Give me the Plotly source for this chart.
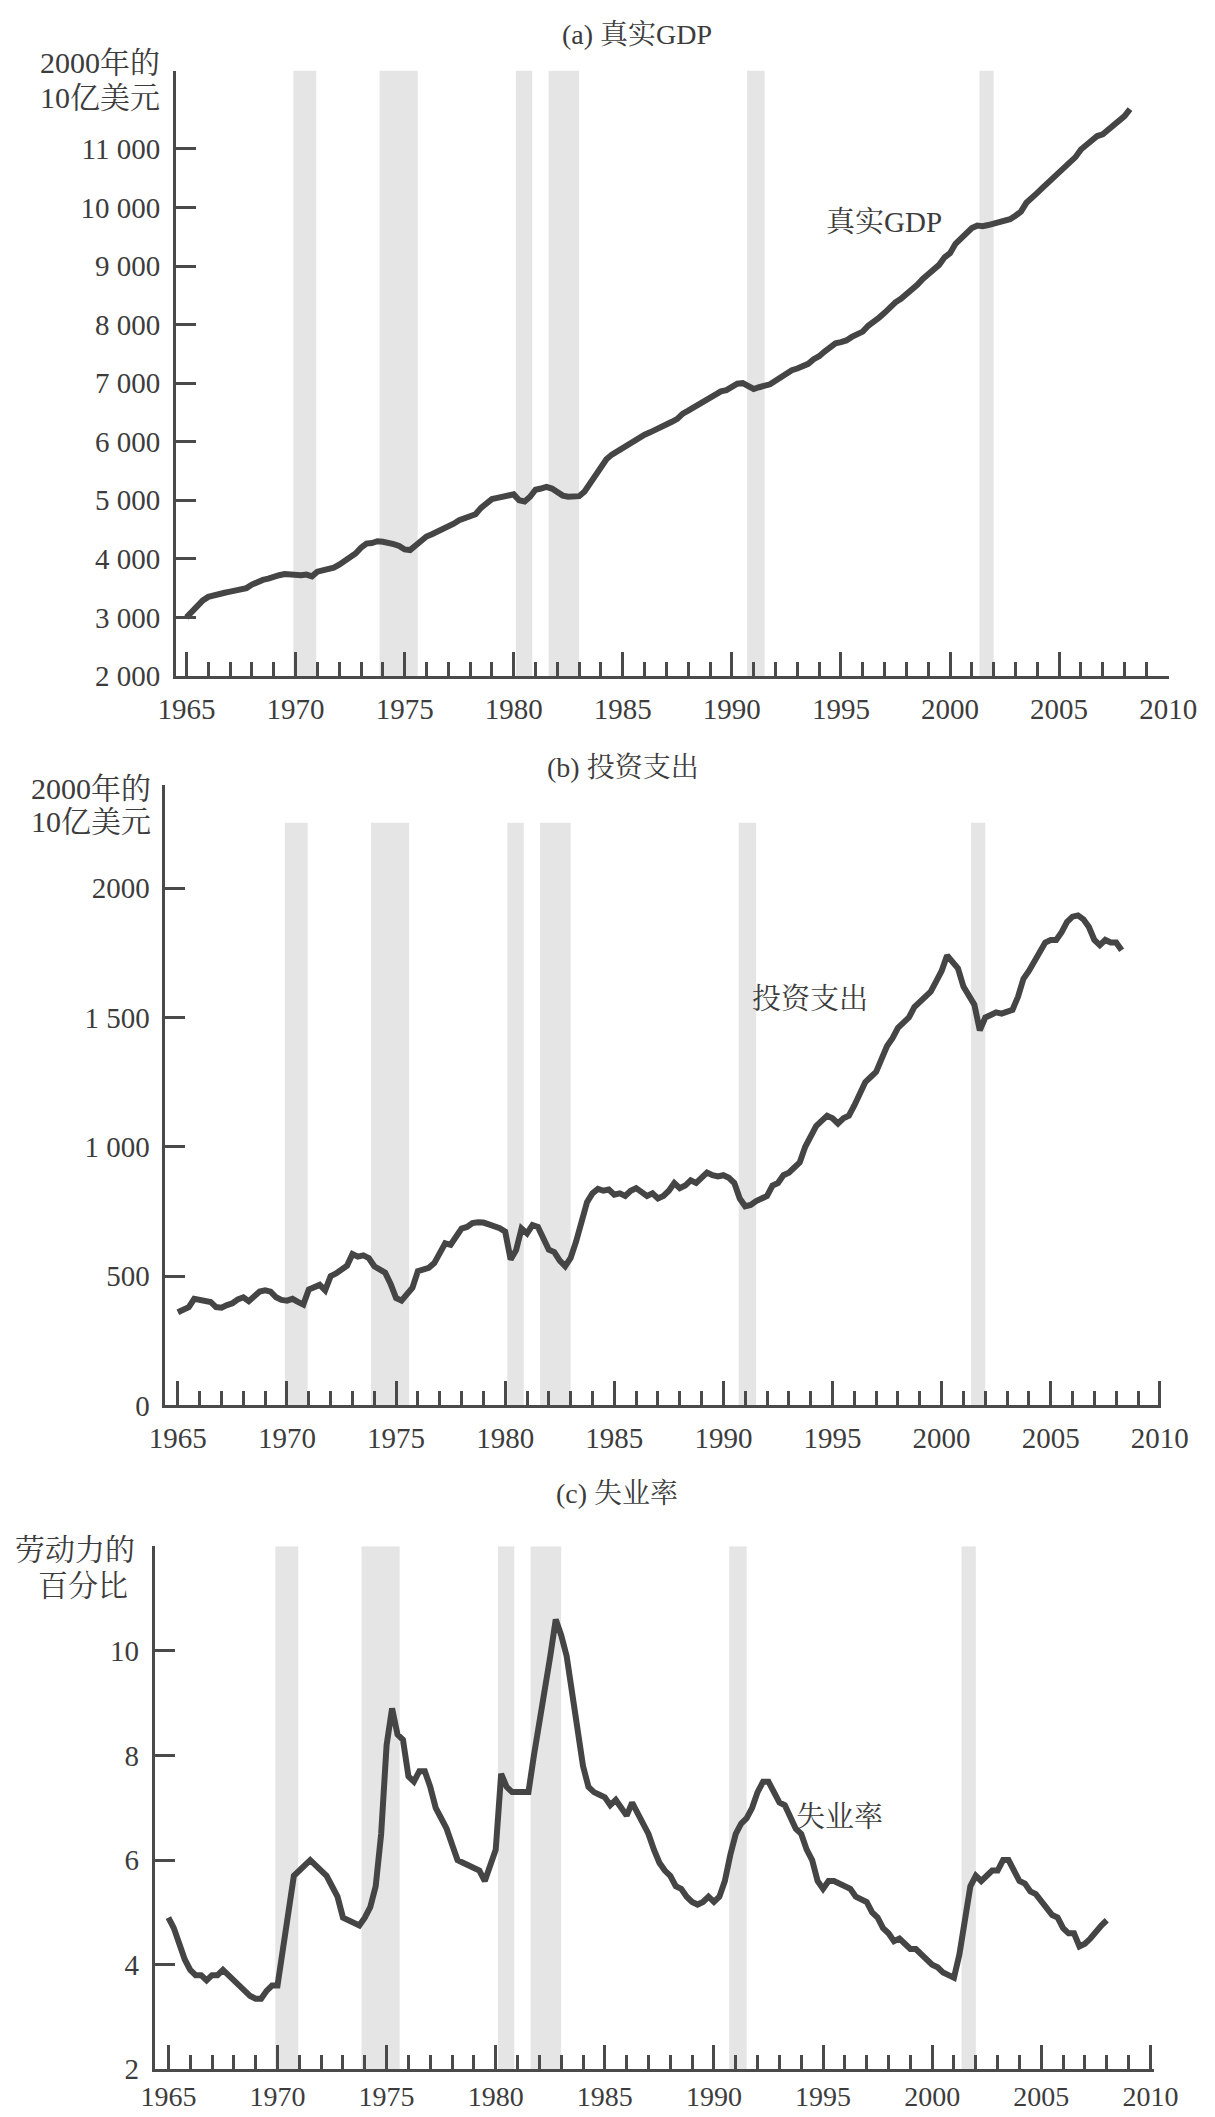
import plotly.graph_objects as go

W, H = 1215, 2117

# ---------------- data (quarterly, starting 1965Q1) ----------------
gdp = [
    3000, 3100, 3200, 3290,   # 1965
    3350, 3380, 3400, 3420,   # 1966
    3440, 3460, 3480, 3500,   # 1967
    3560, 3610, 3640, 3660,   # 1968
    3700, 3720, 3740, 3730,   # 1969
    3720, 3720, 3730, 3700,   # 1970
    3780, 3800, 3830, 3850,   # 1971
    3900, 3960, 4020, 4090,   # 1972
    4190, 4260, 4270, 4300,   # 1973
    4290, 4280, 4250, 4220,   # 1974
    4160, 4150, 4230, 4300,   # 1975
    4380, 4420, 4460, 4500,   # 1976
    4540, 4600, 4660, 4700,   # 1977
    4720, 4760, 4870, 4960,   # 1978
    5020, 5040, 5060, 5080,   # 1979
    5100, 5000, 4980, 5060,   # 1980
    5180, 5200, 5230, 5200,   # 1981
    5150, 5080, 5060, 5060,   # 1982
    5070, 5150, 5290, 5420,   # 1983
    5560, 5700, 5780, 5840,   # 1984
    5890, 5940, 6000, 6050,   # 1985
    6120, 6160, 6200, 6240,   # 1986
    6290, 6340, 6390, 6480,   # 1987
    6530, 6590, 6640, 6700,   # 1988
    6760, 6810, 6860, 6880,   # 1989
    6950, 6990, 7000, 6950,   # 1990
    6900, 6930, 6960, 6980,   # 1991
    7040, 7100, 7160, 7220,   # 1992
    7250, 7290, 7330, 7410,   # 1993
    7460, 7540, 7600, 7680,   # 1994
    7700, 7730, 7790, 7830,   # 1995
    7880, 7980, 8040, 8120,   # 1996
    8200, 8300, 8380, 8440,   # 1997
    8520, 8580, 8680, 8780,   # 1998
    8860, 8920, 9020, 9150,   # 1999
    9220, 9380, 9480, 9580,   # 2000
    9650, 9690, 9680, 9700,   # 2001
    9720, 9740, 9780, 9800,   # 2002
    9860, 9930, 10080, 10180, # 2003
    10250, 10340, 10430, 10520,  # 2004
    10620, 10700, 10790, 10860,  # 2005
    10990, 11060, 11120, 11220,  # 2006
    11250, 11320, 11410, 11480,  # 2007
    11560, 11680,                # 2008
]

invest = [
    360, 368, 380, 412,    # 1965
    408, 405, 400, 380,    # 1966
    378, 388, 395, 410,    # 1967
    418, 403, 425, 440,    # 1968
    445, 440, 418, 408,    # 1969
    405, 412, 400, 390,    # 1970
    448, 460, 466, 445,    # 1971
    500, 510, 522, 540,    # 1972
    585, 575, 580, 570,    # 1973
    538, 525, 513, 470,    # 1974
    415, 405, 430, 455,    # 1975
    519, 525, 532, 550,    # 1976
    590, 627, 621, 650,    # 1977
    684, 690, 705, 708,    # 1978
    707, 700, 695, 685,    # 1979
    672, 564, 600, 684,    # 1980
    665, 697, 690, 640,    # 1981
    602, 593, 560, 538,    # 1982
    570, 634, 720, 786,    # 1983
    820, 837, 830, 835,    # 1984
    815, 820, 810, 830,    # 1985
    840, 825, 810, 820,    # 1986
    800, 810, 830, 860,    # 1987
    840, 850, 870, 860,    # 1988
    880, 900, 890, 885,    # 1989
    890, 880, 860, 800,    # 1990
    770, 775, 790, 800,    # 1991
    810, 850, 860, 890,    # 1992
    900, 920, 940, 1000,   # 1993
    1040, 1080, 1100, 1120,  # 1994
    1110, 1090, 1110, 1120,  # 1995
    1160, 1200, 1250, 1270,  # 1996
    1290, 1340, 1390, 1420,  # 1997
    1460, 1480, 1500, 1540,  # 1998
    1560, 1580, 1600, 1640,  # 1999
    1680, 1740, 1710, 1690,  # 2000
    1620, 1580, 1550, 1450,  # 2001
    1500, 1510, 1520, 1515,  # 2002
    1520, 1530, 1580, 1650,  # 2003
    1680, 1720, 1760, 1790,  # 2004
    1800, 1800, 1830, 1870,  # 2005
    1890, 1895, 1880, 1850,  # 2006
    1800, 1780, 1800, 1790,  # 2007
    1790, 1760,              # 2008
]

unemp = [
    4.9, 4.7, 4.4, 4.1,      # 1965
    3.9, 3.8, 3.8, 3.7,      # 1966
    3.8, 3.8, 3.9, 3.8,      # 1967
    3.7, 3.6, 3.5, 3.4,      # 1968
    3.35, 3.35, 3.5, 3.6,    # 1969
    3.6, 4.4, 5.0, 5.7,      # 1970
    5.8, 5.9, 6.0, 5.9,      # 1971
    5.8, 5.7, 5.5, 5.3,      # 1972
    4.9, 4.85, 4.8, 4.75,    # 1973
    4.9, 5.1, 5.5, 6.5,      # 1974
    8.2, 8.9, 8.4, 8.3,      # 1975
    7.6, 7.5, 7.7, 7.7,      # 1976
    7.4, 7.0, 6.8, 6.6,      # 1977
    6.3, 6.0, 5.95, 5.9,     # 1978
    5.85, 5.8, 5.6, 5.9,     # 1979
    6.2, 7.65, 7.4, 7.3,     # 1980
    7.3, 7.3, 7.3, 8.0,      # 1981
    8.6, 9.3, 9.9, 10.6,     # 1982
    10.3, 9.9, 9.2, 8.4,     # 1983
    7.8, 7.4, 7.3, 7.25,     # 1984
    7.2, 7.05, 7.15, 7.0,    # 1985
    6.85, 7.1, 6.9, 6.7,     # 1986
    6.5, 6.2, 5.95, 5.8,     # 1987
    5.7, 5.5, 5.45, 5.3,     # 1988
    5.2, 5.15, 5.2, 5.3,     # 1989
    5.2, 5.3, 5.6, 6.1,      # 1990
    6.5, 6.7, 6.8, 7.0,      # 1991
    7.3, 7.5, 7.5, 7.3,      # 1992
    7.1, 7.05, 6.8, 6.6,     # 1993
    6.5, 6.2, 6.0, 5.6,      # 1994
    5.45, 5.6, 5.6, 5.55,    # 1995
    5.5, 5.45, 5.3, 5.25,    # 1996
    5.2, 5.0, 4.9, 4.7,      # 1997
    4.6, 4.45, 4.5, 4.4,     # 1998
    4.3, 4.3, 4.2, 4.1,      # 1999
    4.0, 3.95, 3.85, 3.8,    # 2000
    3.75, 4.2, 4.8, 5.5,     # 2001
    5.7, 5.6, 5.7, 5.8,      # 2002
    5.8, 6.0, 6.0, 5.8,      # 2003
    5.6, 5.55, 5.4, 5.35,    # 2004
    5.2, 5.05, 4.95, 4.9,    # 2005
    4.7, 4.6, 4.6, 4.35,     # 2006
    4.4, 4.5, 4.65, 4.75,    # 2007
    4.85,                    # 2008
]

rec_start = [1969.9, 1973.85, 1980.1, 1981.6, 1990.7, 2001.35]
rec_end = [1970.95, 1975.6, 1980.85, 1983.0, 1991.5, 2002.0]

year_ticks = [1965, 1970, 1975, 1980, 1985, 1990, 1995, 2000, 2005, 2010]
year_labels = [str(y) for y in year_ticks]

gdp_ticks = [2000, 3000, 4000, 5000, 6000, 7000, 8000, 9000, 10000, 11000]
gdp_labels = ["2 000", "3 000", "4 000", "5 000", "6 000", "7 000",
              "8 000", "9 000", "10 000", "11 000"]
inv_ticks = [0, 500, 1000, 1500, 2000]
inv_labels = ["0", "500", "1 000", "1 500", "2000"]
un_ticks = [2, 4, 6, 8, 10, 12]
un_labels = ["2", "4", "6", "8", "10", ""]

titles = ["(a) 真实GDP", "(b) 投资支出", "(c) 失业率"]
series_names = ["真实GDP", "投资支出", "失业率"]

# ---------------- styling / layout ----------------
SERIF = "Liberation Serif, Noto Serif CJK SC, Noto Sans CJK SC, serif"
INK = "#3c3c3c"
AX = "#4a4a4a"
LINE = "#454545"
BAND = "#e5e5e5"


def qx(n):
    return [1965 + i / 4 for i in range(n)]


def fx(p):
    return p / W


def fy(p):
    return 1 - p / H


# panel geometry in pixels: left, right, bottom, top
panels = [
    dict(x0=155, x1=1188, xr=[1964.52, 2010.04], yb=673, yt=63,
         yr=[2000, 12339], band_top=12339, ticks=gdp_ticks, labels=gdp_labels,
         xfont=29, xstand=5),
    dict(x0=144, x1=1180, xr=[1964.43, 2010.07], yb=1408, yt=783,
         yr=[0, 2399], band_top=2253, ticks=inv_ticks, labels=inv_labels,
         xfont=29, xstand=5),
    dict(x0=133, x1=1172, xr=[1964.38, 2010.15], yb=2077, yt=1550,
         yr=[2, 12], band_top=12, ticks=un_ticks, labels=un_labels,
         xfont=28, xstand=0),
]

fig = go.Figure()
data = [gdp, invest, unemp]
layout = dict(
    width=W, height=H, margin=dict(l=0, r=0, t=0, b=0),
    paper_bgcolor="white", plot_bgcolor="rgba(0,0,0,0)",
    showlegend=False, font=dict(family=SERIF, color=INK),
)
shapes = []
annotations = []

for i, (p, s) in enumerate(zip(panels, data)):
    k = "" if i == 0 else str(i + 1)
    fig.add_trace(go.Scatter(
        x=qx(len(s)), y=s, mode="lines",
        line=dict(color=LINE, width=6), xaxis="x" + k, yaxis="y" + k,
        hoverinfo="skip"))
    layout["xaxis" + k] = dict(
        domain=[fx(p["x0"]), fx(p["x1"])], range=p["xr"], anchor="y" + k,
        showline=True, linecolor=AX, linewidth=3, showgrid=False, zeroline=False,
        ticks="inside", tickvals=year_ticks, ticktext=year_labels,
        ticklen=24, tickwidth=3, tickcolor=AX,
        minor=dict(ticks="inside", dtick=1, tick0=1965, ticklen=14,
                   tickwidth=3, tickcolor=AX, showgrid=False),
        tickfont=dict(family=SERIF, size=p["xfont"], color=INK),
        ticklabelstandoff=p["xstand"],
    )
    layout["yaxis" + k] = dict(
        domain=[fy(p["yb"]), fy(p["yt"])], range=p["yr"], anchor="x" + k,
        showline=True, linecolor=AX, linewidth=3, showgrid=False, zeroline=False,
        ticks="inside", tickvals=p["ticks"], ticktext=p["labels"],
        ticklen=20, tickwidth=3, tickcolor=AX,
        tickfont=dict(family=SERIF, size=29, color=INK),
        ticklabelstandoff=7,
    )
    for a, b in zip(rec_start, rec_end):
        shapes.append(dict(type="rect", xref="x" + k, yref="y" + k,
                           x0=a, x1=b, y0=p["yr"][0], y1=p["band_top"],
                           fillcolor=BAND, line=dict(width=0), layer="below"))

title_pos = [(635, 27), (620, 765), (614, 1497)]
for t, (x, y) in zip(titles, title_pos):
    annotations.append(dict(text=t, x=fx(x), y=fy(y), xref="paper", yref="paper",
                            showarrow=False, xanchor="center", yanchor="middle",
                            font=dict(family=SERIF, size=28, color=INK)))

ylab = [("2000年的", 140, 55, "right"), ("10亿美元", 140, 90, "right"),
        ("2000年的", 131, 786, "right"), ("10亿美元", 131, 820, "right"),
        ("劳动力的", 114, 1553, "right"), ("百分比", 58, 1590, "center")]
for t, x, y, anc in ylab:
    annotations.append(dict(text=t, x=fx(x), y=fy(y), xref="paper", yref="paper",
                            showarrow=False, xanchor=anc, yanchor="middle",
                            font=dict(family=SERIF, size=30, color=INK)))

name_pos = [(891, 216), (815, 999), (845, 1823)]
for t, (x, y) in zip(series_names, name_pos):
    annotations.append(dict(text=t, x=fx(x), y=fy(y), xref="paper", yref="paper",
                            showarrow=False, xanchor="center", yanchor="middle",
                            font=dict(family=SERIF, size=29, color=INK)))

layout["shapes"] = shapes
layout["annotations"] = annotations
fig.update_layout(**layout)
fig.write_html("out.html")
